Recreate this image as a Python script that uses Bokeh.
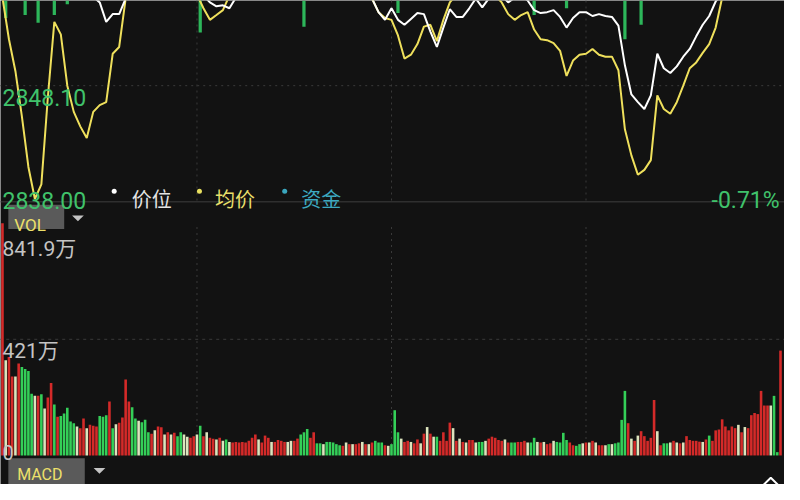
from bokeh.plotting import figure
from bokeh.models import Range1d, Label
from bokeh.embed import file_html
from bokeh.resources import INLINE

# ---------------- data ----------------
price_ticks = [2838.00, 2848.10]
pct_label = "-0.71%"
vol_ticks = [0, 421, 841.9]
vol_tick_labels = ["0", "421万", "841.9万"]
legend_names = ["价位", "均价", "资金"]

price_minutes = list(range(0, 241, 2))

price_white = (
    [2856.2, 2856.6, 2857.0, 2857.3, 2857.6, 2857.9, 2858.1, 2858.0, 2857.7, 2857.4,
     2857.0, 2856.6, 2856.3, 2856.0, 2855.7]
    + [2855.22, 2853.56, 2854.22, 2854.22, 2855.55]
    + [2856.3, 2856.8, 2857.2, 2857.5, 2857.8, 2858.0, 2857.8, 2857.5, 2857.1, 2856.7, 2856.2]
    + [2855.80, 2855.22, 2854.89, 2854.97, 2854.72, 2855.63]
    + [2856.2, 2856.8, 2857.3, 2857.7, 2858.0, 2858.3, 2858.5, 2858.4, 2858.2, 2858.0,
       2857.8, 2857.6, 2857.5, 2857.3, 2857.0, 2856.8, 2856.6, 2856.4, 2856.1, 2855.8]
    + [2855.55, 2854.39, 2853.73, 2854.72, 2853.73, 2853.31, 2853.81, 2854.31, 2854.22, 2852.73,
       2851.41, 2853.07, 2854.64, 2853.98, 2853.98, 2854.72, 2855.55, 2854.80, 2855.55, 2855.80,
       2855.80, 2855.22, 2855.63, 2855.80, 2855.38, 2854.56, 2854.31, 2854.39, 2854.56, 2853.98,
       2853.07, 2853.89, 2854.39, 2854.39, 2854.06, 2854.22, 2854.06, 2853.98, 2853.23, 2849.84,
       2847.35, 2846.69, 2846.11, 2847.27, 2850.83, 2849.59, 2849.18, 2849.75, 2850.58, 2851.24,
       2852.32, 2853.31, 2854.06, 2855.30]
    + [2856.0, 2856.5, 2856.9, 2857.2, 2857.4, 2857.6, 2857.7, 2857.8, 2857.9, 2858.0]
)

price_yellow = (
    [2855.63, 2852.07, 2849.34, 2845.45, 2841.15, 2838.41, 2839.66, 2847.11, 2853.56, 2852.49,
     2848.10, 2845.86, 2844.62, 2843.63, 2845.86, 2846.44, 2846.69, 2850.83, 2851.41, 2855.55]
    + [2856.4, 2856.9, 2857.3, 2857.6, 2857.8, 2857.7, 2857.4, 2857.0, 2856.6, 2856.2, 2855.9]
    + [2854.72, 2853.73, 2854.14, 2854.56, 2855.80]
    + [2856.3, 2856.8, 2857.2, 2857.6, 2857.9, 2858.1, 2858.2, 2858.0, 2857.8, 2857.6,
       2857.4, 2857.2, 2857.0, 2856.9, 2856.8, 2856.6, 2856.5, 2856.4, 2856.2, 2856.0, 2855.8]
    + [2855.55, 2854.39, 2853.89, 2853.73, 2852.40, 2850.42, 2850.75, 2851.66, 2853.15, 2853.31,
       2851.91, 2853.73, 2855.22]
    + [2855.9, 2856.3, 2856.6, 2856.8, 2856.6, 2856.2, 2855.8]
    + [2855.22, 2854.22, 2853.73, 2854.14, 2854.39, 2852.90, 2852.07, 2851.99, 2851.74, 2851.08,
       2848.93, 2850.25, 2850.75, 2850.83, 2851.24, 2850.75, 2850.58, 2850.58, 2849.42, 2844.37,
       2842.14, 2840.48, 2840.90, 2841.73, 2847.27, 2846.11, 2845.70, 2846.69, 2848.10, 2849.59,
       2850.09, 2850.91, 2851.66, 2853.07, 2855.63]
    + [2856.3, 2856.8, 2857.2, 2857.5, 2857.7, 2857.9, 2858.0, 2858.1, 2858.2]
)

fund_minutes = [1, 7, 11, 16, 20, 61, 93, 122, 164, 174, 192, 197]
fund_values = [-1.8, -1.5, -2.3, -1.5, -0.4, -3.3, -2.7, -1.3, -1.5, -0.8, -4.0, -2.5]

volume = [
    841.9, 345, 357, 286, 286, 333, 321, 313, 306, 224,
    216, 216, 222, 170, 210, 263, 185, 140, 143, 152,
    173, 123, 117, 105, 99, 134, 99, 111, 108, 105,
    143, 140, 146, 196, 99, 113, 119, 138, 275, 196,
    175, 134, 126, 120, 129, 84, 79, 91, 105, 102,
    76, 84, 76, 82, 70, 84, 76, 68, 64, 70,
    76, 108, 70, 84, 64, 61, 58, 64, 53, 58,
    49, 47, 49, 47, 49, 47, 53, 64, 76, 58,
    47, 72, 64, 49, 49, 56, 53, 49, 49, 53,
    53, 61, 76, 84, 96, 64, 84, 44, 44, 41,
    49, 49, 47, 41, 37, 35, 47, 41, 41, 41,
    44, 49, 41, 41, 47, 53, 47, 47, 37, 35,
    41,
    164, 84, 61, 49, 53, 49, 44, 58, 44, 79,
    103, 79, 68, 68, 53, 84, 53, 119, 99, 53,
    61, 49, 47, 56, 56, 47, 49, 49, 53, 61,
    68, 64, 56, 53, 58, 47, 47, 47, 49, 49,
    53, 47, 47, 64, 49, 47, 49, 41, 44, 53,
    49, 47, 82, 56, 47, 37, 35, 41, 44, 47,
    47, 53, 47, 37, 37, 37, 41, 41, 44, 47,
    129, 234, 117, 61, 53, 72, 88, 70, 53, 64,
    201, 88, 37, 44, 44, 47, 53, 47, 44, 47,
    70, 56, 53, 53, 50, 49, 58, 72, 53, 91,
    94, 131, 105, 91, 105, 99, 111, 84, 103, 99,
    146, 154, 150, 234, 181, 181, 181, 216, 12, 380,
]
# R = up, G = down, W = flat
volume_dir = list(
    "RWRRWRGGGG" "WRGWRRGRGG" "GGGWRRWRRR" "GGGRGWRRRR" "GGWGGGRWRR" "WRWRGGWWRR"
    "WGRWRRWRWG" "WRRRRRRRRW" "RRRWRRRRWW" "RRGGGRRGGW" "GGGGGRWRWR" "RWRWRGGGRW" "G"
    "GGWRRWRRWR" "WRWGRRRRWR" "WRWRRWGGWR" "RRRRWRGGRR" "RWGGWRWRRW" "GGGGRRGGWR"
    "WRWRRWGWGG" "GGRWRWRRRR" "RWRGGWRWRW" "RRRRRWRGRR" "RRRRRRWRWR" "RRRRRRWGGR"
)
n = min(len(volume), len(volume_dir))
vol_minutes = list(range(n))

# ---------------- styling ----------------
BG = "#121212"
RED, GREEN, PALE = "#d42a29", "#34cf58", "#dce4bd"
cmap = {"R": RED, "G": GREEN, "W": PALE}
vol_colors = [cmap[d] for d in volume_dir[:n]]
TXT_GREEN = "#40c26b"
GRID = "#3a3a3a"
NUM_FONT = "Roboto, 'Noto Sans CJK SC'"
CJK_FONT = "Noto Sans CJK SC"

# layout (reference pixel rows)
PRICE_LOW_Y, PRICE_MID_Y = 210, 88
VOL_ZERO_Y, VOL_MID_Y = 470, 350
ppp = (PRICE_LOW_Y - PRICE_MID_Y) / (price_ticks[1] - price_ticks[0])
price_top = price_ticks[0] + PRICE_LOW_Y / ppp
price_bot = price_ticks[0] - (500 - PRICE_LOW_Y) / ppp
vpp = (VOL_ZERO_Y - VOL_MID_Y) / vol_ticks[1]
vol_top = VOL_ZERO_Y / vpp
vol_bot = -(500 - VOL_ZERO_Y) / vpp

p = figure(width=784, height=484, x_range=Range1d(-0.605, 241.23), y_range=Range1d(500, 0),
           output_backend="svg", toolbar_location=None, min_border=0,
           x_axis_location=None, y_axis_location=None,
           background_fill_color=BG, border_fill_color=BG, outline_line_color=None)
p.grid.visible = False
p.extra_x_ranges = {"px": Range1d(0, 800)}
p.extra_y_ranges = {"price": Range1d(price_bot, price_top),
                    "vol": Range1d(vol_bot, vol_top),
                    "fund": Range1d(-50, 0)}

# grid lines
p.segment(x0=[60, 120, 180], x1=[60, 120, 180], y0=[0] * 3, y1=[207] * 3,
          line_color=GRID, line_width=1, line_dash="2 4")
p.segment(x0=[60, 120, 180], x1=[60, 120, 180], y0=[234] * 3, y1=[470] * 3,
          line_color=GRID, line_width=1, line_dash="2 4")
p.segment(x0=[-1], x1=[242], y0=[price_ticks[1]], y1=[price_ticks[1]], y_range_name="price",
          line_color=GRID, line_width=1, line_dash="2 4")
p.segment(x0=[-1], x1=[242], y0=[vol_ticks[1]], y1=[vol_ticks[1]], y_range_name="vol",
          line_color=GRID, line_width=1, line_dash="3 4")
# panel separator
p.segment(x0=[0], x1=[800], y0=[208], y1=[208], x_range_name="px",
          line_color="#2f2f2f", line_width=1.5)

# fund bars (hanging from top)
p.vbar(x=fund_minutes, top=0, bottom=fund_values, width=1.0, y_range_name="fund",
       fill_color="#2db65a", line_color=None)

# price lines
p.line(price_minutes, price_yellow, y_range_name="price", line_color="#efe05c", line_width=2)
p.line(price_minutes, price_white, y_range_name="price", line_color="#ffffff", line_width=2)

# volume bars
p.vbar(x=vol_minutes, top=volume[:n], bottom=0, width=0.8, y_range_name="vol",
       fill_color=vol_colors, line_color=None)

# header boxes
p.quad(left=[8, 8], right=[65, 86], top=[211, 473], bottom=[236, 500], x_range_name="px",
       fill_color="#5a5a5a", line_color=None)
p.patches(xs=[[73, 85, 79], [95, 107, 101]], ys=[[222, 222, 228], [483, 483, 489]],
          x_range_name="px", fill_color="#c4c4c4", line_color=None)
p.line(x=[778, 786, 794], y=[501, 493, 501], x_range_name="px", line_color="#ffffff", line_width=2)

# legend dots
p.scatter(x=[116, 203, 290], y=[197, 197, 197], x_range_name="px", size=5,
          fill_color=["#ffffff", "#e8e060", "#3aa6bd"], line_color=None)


def lab(x, y, text, color, size, font=NUM_FONT, align="left"):
    p.add_layout(Label(x=x, y=y, x_range_name="px", text=text, text_color=color,
                       text_font=font, text_font_size=size, text_align=align,
                       text_baseline="alphabetic"))


lab(2, 100, f"{price_ticks[1]:.2f}", TXT_GREEN, "23px")
lab(2, 207, f"{price_ticks[0]:.2f}", TXT_GREEN, "23px")
lab(795, 207, pct_label, TXT_GREEN, "23px", align="right")
lab(134, 205, legend_names[0], "#e4e4e4", "20px", font=CJK_FONT)
lab(219, 205, legend_names[1], "#e8df6a", "20px", font=CJK_FONT)
lab(307, 205, legend_names[2], "#3ca9c0", "20px", font=CJK_FONT)
lab(14, 232, "VOL", "#ede06a", "17px")
lab(17, 490, "MACD", "#ede06a", "16px")
lab(2, 257, vol_tick_labels[2], "#c4c4c4", "21px")
lab(2, 362, vol_tick_labels[1], "#c4c4c4", "21px")
lab(2, 467, vol_tick_labels[0], "#c4c4c4", "20px")

open("out.html", "w").write(file_html(p, INLINE))
